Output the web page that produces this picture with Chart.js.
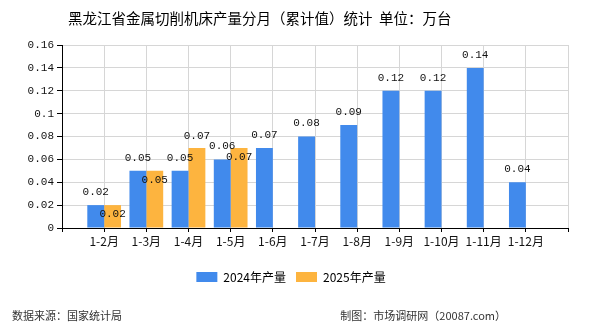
<!DOCTYPE html>
<html><head><meta charset="utf-8">
<script src="https://cdn.jsdelivr.net/npm/chart.js@4"></script>
<style>html,body{margin:0;padding:0;background:#fff;}#wrap{width:590px;height:330px;position:relative;}</style>
</head><body><div id="wrap"><canvas id="c" width="590" height="330"></canvas></div>
<script>
const titleText = "黑龙江省金属切削机床产量分月（累计值）统计  单位：万台";
const sourceText = "数据来源：国家统计局";
const creditText = "制图：市场调研网（20087.com）";
const categories = ["1-2月","1-3月","1-4月","1-5月","1-6月","1-7月","1-8月","1-9月","1-10月","1-11月","1-12月"];
const series2024Name = "2024年产量";
const series2025Name = "2025年产量";
const values2024 = [0.02,0.05,0.05,0.06,0.07,0.08,0.09,0.12,0.12,0.14,0.04];
const values2025 = [0.02,0.05,0.07,0.07,null,null,null,null,null,null,null];
const yTicks = [0,0.02,0.04,0.06,0.08,0.1,0.12,0.14,0.16];

const BLUE = "#418AEC", ORANGE = "#FDB43F";
const monoFont = "'Liberation Mono', 'DejaVu Sans Mono', monospace";
const cjkFont = "'Noto Sans CJK SC', 'Noto Sans', sans-serif";

const labels = [""].concat(categories, [""]);
const pad = arr => [null].concat(arr, [null]);

const decor = {
  id: 'decor',
  afterDraw(chart) {
    const ctx = chart.ctx;
    ctx.save();
    ctx.fillStyle = "#000";
    ctx.font = "14.5px " + cjkFont;
    ctx.textBaseline = "middle";
    ctx.textAlign = "left";
    ctx.fillText(titleText, 68, 18);
    ctx.fillStyle = "#333";
    ctx.font = "11px " + cjkFont;
    ctx.fillText(sourceText, 12, 316);
    ctx.textAlign = "right";
    ctx.fillText(creditText, 506, 316);
    ctx.restore();
  }
};

const valueLabels = {
  id: 'valueLabels',
  afterDatasetsDraw(chart) {
    const ctx = chart.ctx;
    ctx.save();
    ctx.font = "11px " + monoFont;
    ctx.fillStyle = "#111";
    ctx.textAlign = "center";
    ctx.textBaseline = "middle";
    const m0 = chart.getDatasetMeta(0), m1 = chart.getDatasetMeta(1);
    const fmt = v => String(+v.toFixed(2));
    chart.data.datasets[0].data.forEach((v, i) => {
      if (v == null) return;
      const el = m0.data[i];
      ctx.fillText(fmt(v), el.x, el.y - 13);
    });
    chart.data.datasets[1].data.forEach((v, i) => {
      if (v == null) return;
      const el = m1.data[i];
      const other = m0.data[i];
      const inside = other && Math.abs(other.y - el.y) < 16;
      ctx.fillText(fmt(v), el.x, inside ? el.y + 9 : el.y - 12);
    });
    ctx.restore();
  }
};

new Chart(document.getElementById('c'), {
  type: 'bar',
  data: {
    labels: labels,
    datasets: [
      {label: series2024Name, data: pad(values2024), backgroundColor: BLUE, categoryPercentage: 0.8, barPercentage: 1.0},
      {label: series2025Name, data: pad(values2025), backgroundColor: ORANGE, categoryPercentage: 0.8, barPercentage: 1.0}
    ]
  },
  options: {
    responsive: false,
    animation: false,
    devicePixelRatio: 1,
    layout: {padding: {top: 45, left: 14, right: 22, bottom: 37}},
    plugins: {
      legend: {
        position: 'bottom',
        labels: {boxWidth: 21, boxHeight: 10, padding: 10, color: "#000", font: {family: cjkFont, size: 12}}
      },
      tooltip: {enabled: false},
      title: {display: false}
    },
    scales: {
      x: {
        offset: false,
        grid: {offset: false, color: "#d6d6d6", drawTicks: true, tickLength: 4, tickColor: "#000"},
        border: {color: "#000", width: 1},
        ticks: {color: "#111", font: {family: cjkFont, size: 12}, padding: 2, maxRotation: 0, autoSkip: false},
        afterFit(s) { s.height = 33; }
      },
      y: {
        min: 0, max: 0.16,
        afterBuildTicks(s) { s.ticks = yTicks.map(v => ({value: v})); },
        grid: {color: "#d6d6d6", drawTicks: true, tickLength: 5, tickColor: "#000"},
        border: {color: "#000", width: 1},
        ticks: {color: "#111", font: {family: monoFont, size: 11}, padding: 3,
          callback: v => String(+(+v).toFixed(2))},
        afterFit(s) { s.width = 48; }
      }
    }
  },
  plugins: [decor, valueLabels]
});
</script>
</body></html>
